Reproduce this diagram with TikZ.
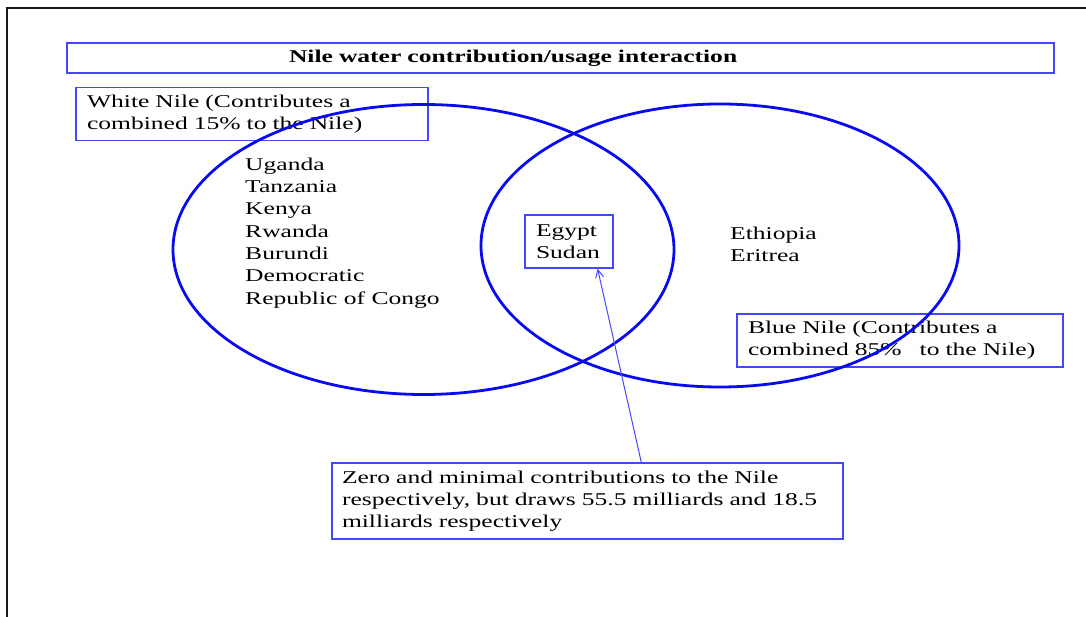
\documentclass[tikz,border=0pt]{standalone}
\usepackage{fontspec}
\setmainfont{Liberation Serif}[FakeStretch=1.42]
\usetikzlibrary{arrows.meta,calc}
\definecolor{ringblue}{RGB}{10,10,240}
\definecolor{boxblue}{RGB}{70,70,255}
\begin{document}
\begin{tikzpicture}[x=1pt,y=1pt,
    txt/.style={font=\fontsize{18}{22.3}\selectfont},
    box/.style={txt,draw=boxblue,line width=1.3pt,inner xsep=11pt,inner ysep=0pt,minimum height=53pt,align=left},
    list/.style={txt,inner sep=0pt,anchor=west,align=left},
    ring/.style={draw=ringblue,line width=2.8pt},
    arr/.style={draw=boxblue,line width=1pt,-{Straight Barb[length=8pt,width=8pt]}}
  ]
  \useasboundingbox (0,0) rectangle (1086,616);
  \draw[line width=2.8pt,black!90] (7,-2) -- (7,608) -- (1088,608);

  % boxes
  \node[box,minimum height=30pt,text width=543pt,inner xsep=222pt] (title) at (560.5,558)
    {\bfseries Nile water contribution/usage interaction};
  \node[box,text width=330pt] (white) at (252,502)
    {White Nile (Contributes a\\combined 15\% to the Nile)};
  \node[box,text width=66pt] (egypt) at (569,374.5) {Egypt\\Sudan};
  \node[box,text width=304pt] (blue) at (900,275.5)
    {Blue Nile (Contributes a\\combined 85\%~~ to the Nile)};
  \node[box,text width=491pt,inner xsep=10pt,minimum height=76pt] (note) at (587.5,115)
    {Zero and minimal contributions to the Nile\\respectively, but draws 55.5 milliards and 18.5\\milliards respectively};

  % country lists
  \node[list] (upper) at (245,383)
    {Uganda\\Tanzania\\Kenya\\Rwanda\\Burundi\\Democratic\\Republic of Congo};
  \node[list] (east) at (730,372) {Ethiopia\\Eritrea};

  \draw[ring] (423.5,366.5) ellipse [x radius=250.5pt,y radius=145pt];
  \draw[ring] (720,370.5) ellipse [x radius=239pt,y radius=141.5pt];

  \draw[arr] ($(note.north west)!0.605!(note.north east)$) -- ($(egypt.south west)!0.82!(egypt.south east)$);
\end{tikzpicture}
\end{document}
